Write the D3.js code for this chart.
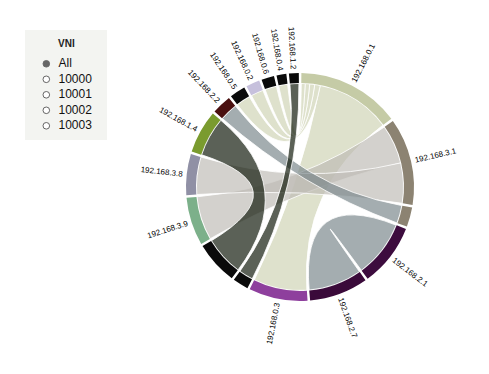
<!DOCTYPE html>
<html>
<head>
<meta charset="utf-8">
<script src="https://cdn.jsdelivr.net/npm/d3@7"></script>
<style>
  body { margin: 0; background: #fff; }
  svg { display: block; font-family: Helvetica, Arial, "Liberation Sans", sans-serif; }
</style>
</head>
<body>
<div id="chart-area"></div>
<script>
const WIDTH = 489
const HEIGHT = 374
const CENTER = { X: 300, Y: 187 }
const OUTER = 114
const INNER = 104

// hosts in clockwise order from the top, "" = arc drawn without a label
const hosts = [
  "192.168.0.1", "192.168.3.1", "", "192.168.2.1", "192.168.2.7", "192.168.0.3",
  "", "", "192.168.3.9", "192.168.3.8", "192.168.1.4", "192.168.2.2",
  "192.168.0.5", "192.168.0.2", "192.168.0.6", "192.168.0.4", "192.168.1.2"
]

// links between hosts (by index) and the traffic seen at each end
const linkA = [0, 0, 0, 0, 0, 1, 1, 2, 3, 6, 7]
const linkB = [5, 12, 13, 14, 15, 8, 9, 11, 4, 16, 10]
const valueA = [42, 3.1, 2.8, 2.5, 2.2, 22, 22.5, 10, 32, 8, 22]
const valueB = [30, 8, 7, 6.5, 5, 24.5, 21, 10, 30, 5, 22]

const vnis = ["All", "10000", "10001", "10002", "10003"]

// arc colours, one per host
const arcColors = [
  "#c5cba6", "#8c8372", "#8c8372", "#3d0c3e", "#3a0a3a", "#8e3f9d",
  "#0a0a0a", "#0a0a0a", "#7cb08a", "#9090a5", "#7a9b2e", "#4a1010",
  "#0a0a0a", "#c6c0dc", "#0a0a0a", "#0a0a0a", "#0a0a0a"
]
// ribbon colours, picked by the lower host index of a link
const ribbonColors = {
  0: "#ced2b3", 1: "#bebbb5", 2: "#778589", 3: "#778589", 6: "#0b1305", 7: "#0b1305"
}

// build the square matrix d3.chord needs
const n = hosts.length
const matrix = d3.range(n).map(() => new Array(n).fill(0))
linkA.forEach((a, i) => {
  const b = linkB[i]
  matrix[a][b] = valueA[i]
  matrix[b][a] = valueB[i]
})

const svg = d3.select("#chart-area").append("svg")
  .attr("width", WIDTH)
  .attr("height", HEIGHT)

// Legend
const legend = svg.append("g")
  .attr("transform", "translate(25, 30)")

legend.append("rect")
  .attr("width", 82)
  .attr("height", 110)
  .attr("fill", "#f3f4f1")

legend.append("text")
  .attr("x", 33)
  .attr("y", 16.7)
  .attr("font-size", "10px")
  .attr("font-weight", "bold")
  .attr("fill", "#222")
  .text("VNI")

const items = legend.selectAll("g.item")
  .data(vnis)
  .join("g")
    .attr("class", "item")
    .attr("transform", (d, i) => `translate(0, ${37 + i * 15.5})`)

items.append("circle")
  .attr("cx", 21.3)
  .attr("cy", -3.2)
  .attr("r", 3.3)
  .attr("fill", (d, i) => i === 0 ? "#666" : "#fff")
  .attr("stroke", (d, i) => i === 0 ? "#666" : "#555")
  .attr("stroke-width", 0.9)

items.append("text")
  .attr("x", 33.5)
  .attr("font-size", "12px")
  .attr("fill", "#111")
  .text(d => d)

// Chord diagram
const g = svg.append("g")
  .attr("transform", `translate(${CENTER.X}, ${CENTER.Y}) rotate(0.7)`)

const chord = d3.chord()
  .padAngle(1.3 * Math.PI / 180)
  .sortSubgroups(d3.ascending)

const chords = chord(matrix)

const arc = d3.arc()
  .innerRadius(INNER)
  .outerRadius(OUTER)

const ribbon = d3.ribbon()
  .radius(INNER - 0.5)

g.append("g")
  .selectAll("path")
  .data(chords)
  .join("path")
    .attr("d", ribbon)
    .attr("fill", d => ribbonColors[Math.min(d.source.index, d.target.index)])
    .attr("fill-opacity", 0.67)
    .attr("stroke", "#fff")
    .attr("stroke-width", 0.8)

g.append("g")
  .selectAll("path")
  .data(chords.groups)
  .join("path")
    .attr("d", arc)
    .attr("fill", d => arcColors[d.index])

g.append("g")
  .selectAll("text")
  .data(chords.groups.filter(d => hosts[d.index]))
  .join("text")
    .each(d => { d.angle = (d.startAngle + d.endAngle) / 2 })
    .attr("dy", "0.35em")
    .attr("font-size", "8px")
    .attr("fill", "#000")
    .attr("transform", d => `rotate(${d.angle * 180 / Math.PI - 90}) translate(${OUTER + 4})`
      + (d.angle > Math.PI ? " rotate(180)" : ""))
    .attr("text-anchor", d => d.angle > Math.PI ? "end" : "start")
    .text(d => hosts[d.index])
</script>
</body>
</html>
